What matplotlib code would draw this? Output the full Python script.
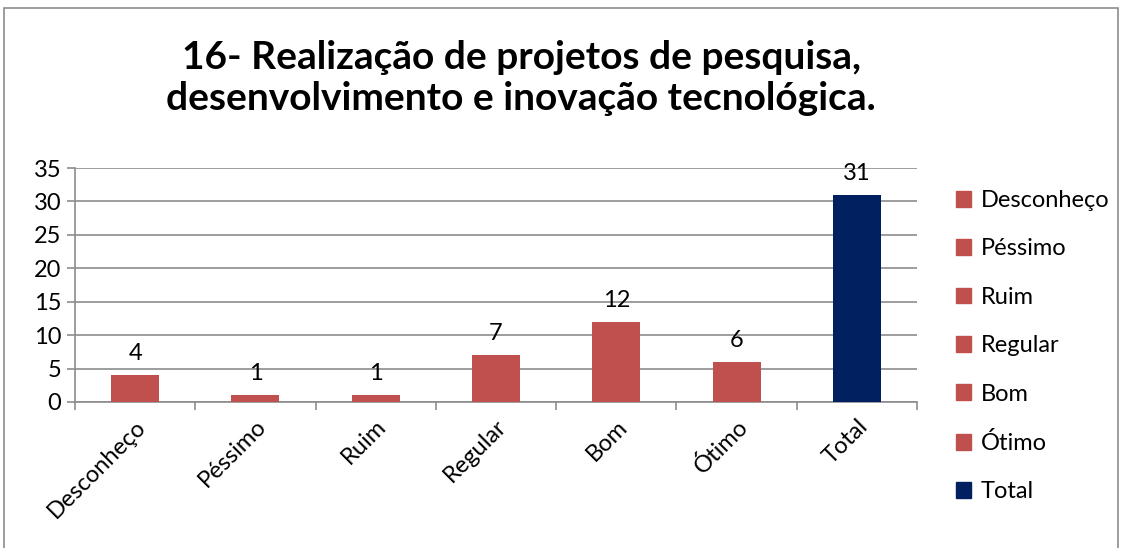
import matplotlib.pyplot as plt
from matplotlib.patches import Rectangle, Patch

categories = ['Desconheço', 'Péssimo', 'Ruim', 'Regular', 'Bom', 'Ótimo', 'Total']
values = [4, 1, 1, 7, 12, 6, 31]
colors = ['#C0504D'] * 6 + ['#002060']
title = '16- Realização de projetos de pesquisa,\ndesenvolvimento e inovação tecnológica.'

plt.rcParams['font.family'] = ['Lato', 'DejaVu Sans']

fig = plt.figure(figsize=(11.29, 5.48), dpi=100)
ax = fig.add_axes([75 / 1129, 1 - 402 / 548, (917 - 75) / 1129, (402 - 168) / 548])

x = list(range(len(categories)))
bars = ax.bar(x, values, width=0.4, color=colors, zorder=3)
for xi, v in zip(x, values):
    ax.annotate(str(v), (xi, v), xytext=(0, 8), textcoords='offset points',
                ha='center', va='bottom', fontsize=17)

ax.set_xlim(-0.5, len(categories) - 0.5)
ax.set_ylim(0, 35)
ax.set_yticks(range(0, 36, 5))
ax.yaxis.grid(True, color='#8C8C8C', linewidth=1.2, zorder=0)
ax.tick_params(axis='y', length=6, color='#8C8C8C', labelsize=17, width=1.2, pad=4)

# category boundaries as tick marks
ax.set_xticks([i - 0.5 for i in range(len(categories) + 1)], minor=False)
ax.set_xticklabels([])
ax.set_xticks(x, minor=True)
ax.set_xticklabels(categories, minor=True, rotation=45, ha='right',
                   rotation_mode='anchor', fontsize=17)
ax.tick_params(axis='x', which='major', length=6, color='#8C8C8C', width=1.2, direction='out')
ax.tick_params(axis='x', which='minor', length=0, pad=10)

for s in ['top', 'right']:
    ax.spines[s].set_visible(False)
for s in ['left', 'bottom']:
    ax.spines[s].set_color('#8C8C8C')
    ax.spines[s].set_linewidth(1.2)

fig.text(521 / 1129, 1 - 78 / 548, title, ha='center', va='center',
         fontsize=28, fontweight='bold', linespacing=1.2)

handles = [Patch(color=c, label=l) for c, l in zip(colors, categories)]
fig.legend(handles=handles, loc='upper left', bbox_to_anchor=(956 / 1129, 1 - 190 / 548),
           frameon=False, fontsize=17, handlelength=0.65, handleheight=0.65,
           handletextpad=0.4, labelspacing=1.16, borderaxespad=0, borderpad=0)

fig.patches.append(Rectangle((4 / 1129, -0.05), 1114 / 1129, 1.05 - 8 / 548,
                             transform=fig.transFigure, fill=False,
                             edgecolor='#8C8C8C', linewidth=1.2))

fig.savefig('out.png', dpi=100)
